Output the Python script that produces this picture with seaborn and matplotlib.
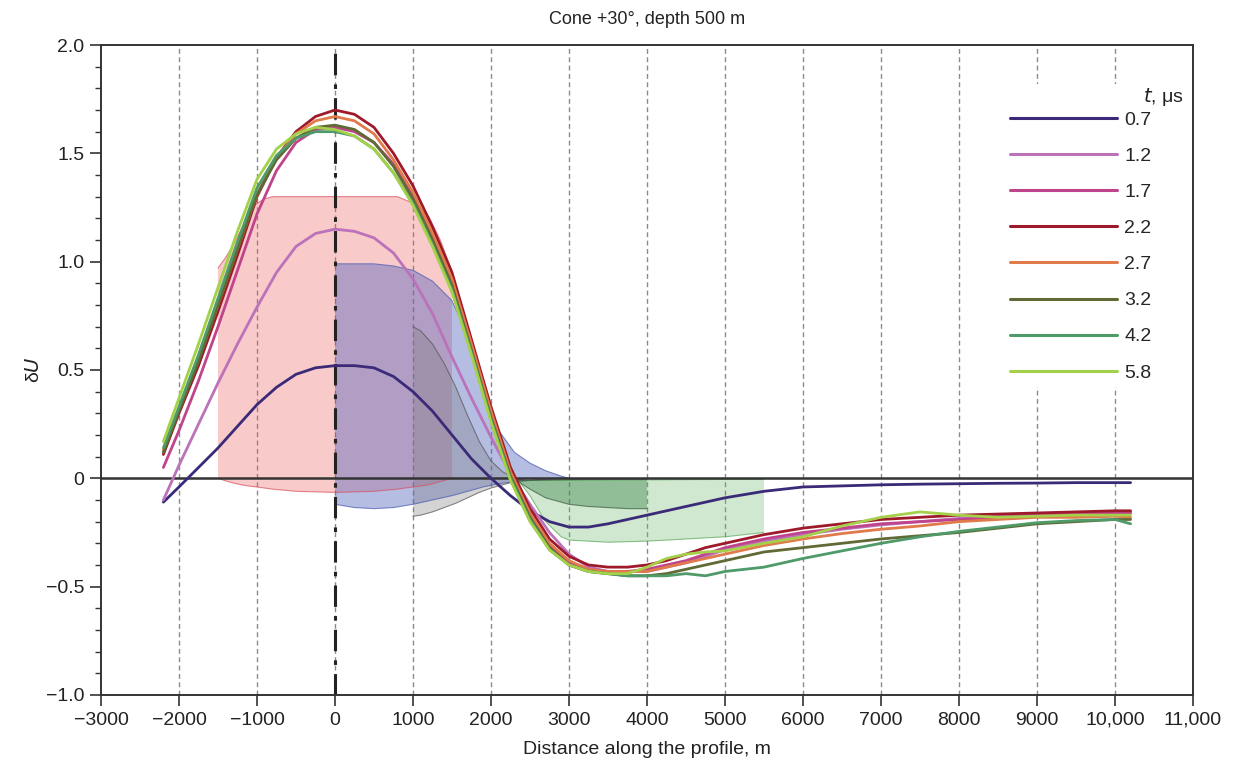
import numpy as np
import pandas as pd
import matplotlib
matplotlib.use("Agg")
import matplotlib.pyplot as plt
import seaborn as sns
from matplotlib.ticker import FixedLocator, MultipleLocator, FuncFormatter

# ---------------- data ----------------
x_profile = [-2200, -2000, -1750, -1500, -1250, -1000, -750, -500, -250, 0,
             250, 500, 750, 1000, 1250, 1500, 1750, 2000, 2250, 2500,
             2750, 3000, 3250, 3500, 3750, 4000, 4250, 4500, 4750, 5000,
             5500, 6000, 6500, 7000, 7500, 8000, 8500, 9000, 9500, 10000, 10200]

times = ["0.7", "1.2", "1.7", "2.2", "2.7", "3.2", "4.2", "5.8"]

du_07 = [-0.11, -0.04, 0.05, 0.14, 0.24, 0.34, 0.42, 0.48, 0.51, 0.52,
         0.52, 0.51, 0.47, 0.40, 0.31, 0.20, 0.09, 0.00, -0.08, -0.15,
         -0.20, -0.225, -0.225, -0.21, -0.19, -0.17, -0.15, -0.13, -0.11, -0.09,
         -0.06, -0.04, -0.035, -0.03, -0.027, -0.025, -0.023, -0.022, -0.02, -0.02, -0.02]
du_12 = [-0.10, 0.06, 0.25, 0.44, 0.62, 0.79, 0.95, 1.07, 1.13, 1.15,
         1.14, 1.11, 1.04, 0.92, 0.76, 0.56, 0.37, 0.19, 0.02, -0.12,
         -0.25, -0.35, -0.41, -0.43, -0.43, -0.43, -0.41, -0.39, -0.36, -0.33,
         -0.29, -0.26, -0.235, -0.215, -0.20, -0.185, -0.175, -0.165, -0.16, -0.155, -0.155]
du_17 = [0.05, 0.22, 0.45, 0.70, 0.96, 1.22, 1.42, 1.55, 1.61, 1.62,
         1.60, 1.55, 1.45, 1.30, 1.11, 0.90, 0.60, 0.29, 0.02, -0.17,
         -0.31, -0.39, -0.42, -0.43, -0.43, -0.42, -0.40, -0.38, -0.35, -0.32,
         -0.28, -0.25, -0.23, -0.21, -0.20, -0.19, -0.18, -0.17, -0.165, -0.16, -0.16]
du_22 = [0.11, 0.30, 0.52, 0.77, 1.03, 1.30, 1.48, 1.60, 1.67, 1.70,
         1.68, 1.62, 1.50, 1.35, 1.16, 0.95, 0.64, 0.33, 0.05, -0.14,
         -0.28, -0.36, -0.40, -0.41, -0.41, -0.40, -0.38, -0.35, -0.32, -0.30,
         -0.26, -0.23, -0.21, -0.19, -0.18, -0.17, -0.165, -0.16, -0.155, -0.15, -0.15]
du_27 = [0.13, 0.32, 0.55, 0.80, 1.06, 1.31, 1.48, 1.59, 1.65, 1.67,
         1.65, 1.59, 1.47, 1.32, 1.13, 0.92, 0.62, 0.31, 0.03, -0.16,
         -0.30, -0.38, -0.42, -0.43, -0.43, -0.43, -0.41, -0.39, -0.37, -0.35,
         -0.31, -0.28, -0.255, -0.235, -0.22, -0.20, -0.19, -0.18, -0.18, -0.175, -0.18]
du_32 = [0.12, 0.31, 0.54, 0.80, 1.06, 1.31, 1.47, 1.57, 1.62, 1.63,
         1.61, 1.55, 1.44, 1.29, 1.10, 0.89, 0.59, 0.28, 0.01, -0.18,
         -0.32, -0.40, -0.43, -0.44, -0.45, -0.45, -0.44, -0.42, -0.40, -0.38,
         -0.34, -0.32, -0.30, -0.28, -0.265, -0.25, -0.23, -0.21, -0.20, -0.19, -0.19]
du_42 = [0.14, 0.33, 0.57, 0.83, 1.09, 1.34, 1.49, 1.57, 1.60, 1.60,
         1.58, 1.52, 1.41, 1.27, 1.08, 0.87, 0.58, 0.27, 0.00, -0.19,
         -0.33, -0.40, -0.43, -0.44, -0.45, -0.45, -0.45, -0.44, -0.45, -0.43,
         -0.41, -0.37, -0.335, -0.30, -0.27, -0.245, -0.225, -0.205, -0.195, -0.19, -0.21]
du_58 = [0.17, 0.37, 0.62, 0.88, 1.14, 1.38, 1.52, 1.59, 1.62, 1.61,
         1.58, 1.52, 1.41, 1.26, 1.07, 0.86, 0.57, 0.26, -0.01, -0.20,
         -0.33, -0.40, -0.43, -0.44, -0.44, -0.41, -0.37, -0.35, -0.34, -0.335,
         -0.30, -0.27, -0.22, -0.18, -0.155, -0.17, -0.18, -0.175, -0.17, -0.17, -0.17]

series = [du_07, du_12, du_17, du_22, du_27, du_32, du_42, du_58]
colors = ["#3a2a78", "#bb72bb", "#c0448c", "#9e1a2a", "#e07a4a", "#5f6a35", "#4e9a68", "#a4d04a"]

# shaded bands
pink_x = [-1500, -1400, -1300, -1200, -1100, -1000, -900, -800, -500, 0, 500, 800, 1000, 1200, 1350, 1500]
pink_hi = [0.97, 1.02, 1.08, 1.15, 1.22, 1.27, 1.29, 1.30, 1.30, 1.30, 1.30, 1.30, 1.27, 1.21, 1.10, 0.955]
pink_lo = [0.0, -0.012, -0.022, -0.03, -0.036, -0.04, -0.045, -0.05, -0.06, -0.065, -0.06, -0.05, -0.04, -0.03, -0.015, 0.0]

blue_x = [0, 250, 500, 750, 1000, 1250, 1500, 1700, 1900, 2100, 2300, 2500, 2700, 2900, 3000]
blue_hi = [0.99, 0.99, 0.99, 0.98, 0.96, 0.91, 0.82, 0.66, 0.42, 0.22, 0.12, 0.07, 0.035, 0.01, 0.0]
blue_lo = [-0.12, -0.135, -0.14, -0.135, -0.12, -0.10, -0.08, -0.06, -0.04, -0.025, -0.015, -0.01, -0.005, 0.0, 0.0]

gray_x = [1000, 1100, 1250, 1400, 1550, 1700, 1850, 2000, 2150, 2300, 2450]
gray_hi = [0.70, 0.68, 0.62, 0.53, 0.42, 0.29, 0.17, 0.08, 0.03, 0.0, -0.01]
gray_lo = [-0.175, -0.17, -0.155, -0.135, -0.115, -0.09, -0.065, -0.045, -0.03, -0.015, -0.01]

lgreen_x = [2350, 2500, 2700, 2900, 3000, 3500, 4000, 4500, 5000, 5500]
lgreen_hi = [-0.01, -0.01, -0.01, -0.01, -0.01, -0.008, -0.007, -0.006, -0.005, -0.005]
lgreen_lo = [-0.01, -0.08, -0.20, -0.27, -0.285, -0.295, -0.29, -0.28, -0.27, -0.25]

dgreen_x = [2350, 2500, 2700, 3000, 3250, 3500, 3750, 4000]
dgreen_hi = [-0.01, -0.01, -0.008, -0.006, -0.005, -0.005, -0.005, -0.005]
dgreen_lo = [-0.015, -0.05, -0.09, -0.12, -0.13, -0.135, -0.14, -0.14]

x_ticks = list(range(-3000, 11001, 1000))
grid_x = list(range(-2000, 10001, 1000))
y_ticks = [-1.0, -0.5, 0, 0.5, 1.0, 1.5, 2.0]

# ---------------- style ----------------
sns.set_theme(style="ticks")
plt.rcParams["font.family"] = ["Liberation Sans", "DejaVu Sans"]
plt.rcParams["axes.unicode_minus"] = True

fig = plt.figure(figsize=(12.36, 7.68), dpi=100)
ax = fig.add_axes([0.0817, 0.0951, 0.8835, 0.8463])

# grid lines
for gx in grid_x:
    ax.axvline(gx, color="#8a8a8a", lw=1.0, ls=(0, (3.5, 2.5)), zorder=0.5)

# bands
def band(x, lo, hi, fc, alpha, ec):
    ax.fill_between(x, lo, hi, facecolor=fc, alpha=alpha, edgecolor="none", lw=0, zorder=1)
    ax.plot(x, hi, color=ec, lw=0.8, alpha=0.7, zorder=1.1)
    ax.plot(x, lo, color=ec, lw=0.8, alpha=0.7, zorder=1.1)

band(pink_x, pink_lo, pink_hi, "#ec5a5a", 0.32, "#d85060")
band(blue_x, blue_lo, blue_hi, "#5262be", 0.42, "#4a5ab0")
band(gray_x, gray_lo, gray_hi, "#7a7a7a", 0.32, "#555555")
band(lgreen_x, lgreen_lo, lgreen_hi, "#6ab86a", 0.32, "#5aa85a")
band(dgreen_x, dgreen_lo, dgreen_hi, "#2e7a3e", 0.38, "#3a5a40")

# zero line and axis at x=0
ax.axhline(0, color="#333333", lw=1.8, zorder=2)
ax.axvline(0, color="#222222", lw=2.2, ls=(0, (7, 3, 1.5, 3)), zorder=2.5)

# lines via seaborn
frames = []
for t, vals in zip(times, series):
    frames.append(pd.DataFrame({"x": x_profile, "dU": vals, "t": t}))
df = pd.concat(frames, ignore_index=True)
palette = dict(zip(times, colors))
sns.lineplot(data=df, x="x", y="dU", hue="t", hue_order=times, palette=palette,
             estimator=None, sort=False, lw=2.0, ax=ax, zorder=3)

# axes
ax.set_xlim(-3000, 11000)
ax.set_ylim(-1.0, 2.0)
ax.xaxis.set_major_locator(FixedLocator(x_ticks))
ax.yaxis.set_major_locator(FixedLocator(y_ticks))
ax.yaxis.set_minor_locator(MultipleLocator(0.1))

def xfmt(v, pos):
    v = int(round(v))
    s = f"{abs(v):,}" if abs(v) >= 10000 else f"{abs(v)}"
    return ("\u2212" + s) if v < 0 else s

def yfmt(v, pos):
    if abs(v) < 1e-9:
        return "0"
    s = f"{abs(v):.1f}"
    return ("\u2212" + s) if v < 0 else s

ax.xaxis.set_major_formatter(FuncFormatter(xfmt))
ax.yaxis.set_major_formatter(FuncFormatter(yfmt))
ax.tick_params(axis="both", which="major", direction="out", length=8, width=1.2,
               color="#333333", labelsize=14, labelcolor="#222222", pad=4)
ax.tick_params(axis="y", which="minor", direction="out", length=4.5, width=1.0, color="#333333")
for sp in ax.spines.values():
    sp.set_color("#333333")
    sp.set_linewidth(1.4)

ax.set_xlabel("Distance along the profile, m", fontsize=14, color="#222222", labelpad=9)
ax.set_ylabel("\u03b4$U$", fontsize=14, color="#222222", labelpad=2)
ax.set_title("Cone +30\u00b0, depth 500 m", fontsize=13, color="#222222", pad=15)

handles, labels = ax.get_legend_handles_labels()
leg = ax.legend(handles, labels, title=" ", loc="upper right",
                bbox_to_anchor=(0.9763, 0.9555), frameon=True, facecolor="white",
                edgecolor="none", framealpha=1.0, fontsize=14, title_fontsize=14,
                handlelength=5.5, handletextpad=0.4, labelspacing=0.95,
                borderpad=0.3, alignment="right")
leg._legend_box.sep = 3.5
for h in leg.get_lines():
    h.set_linewidth(2.2)
leg.set_zorder(5)

# legend title drawn as text so it can sit right of the label column
ax.text(0.9918, 0.920, "$t$, \u03bcs", transform=ax.transAxes, ha="right", va="center",
        fontsize=14, color="#222222", zorder=6)

fig.savefig("out.png", dpi=100)
